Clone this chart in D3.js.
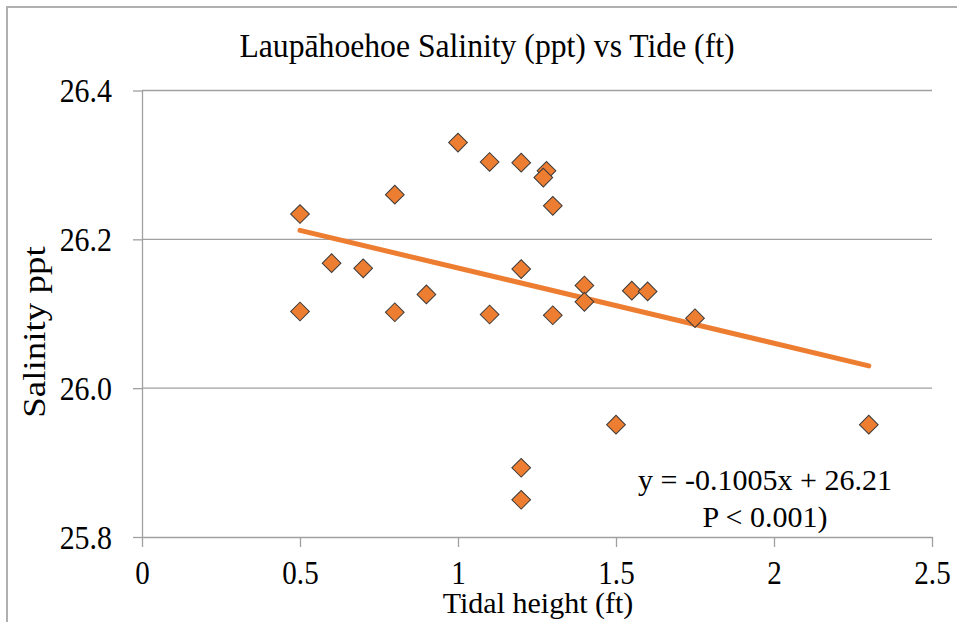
<!DOCTYPE html>
<html>
<head>
<meta charset="utf-8">
<script src="https://cdn.jsdelivr.net/npm/d3@7"></script>
<style>
  body { margin: 0; background: #fff; }
  svg { display: block; font-family: "Liberation Serif", "Times New Roman", serif; }
</style>
</head>
<body>
<div class="chart"></div>
<script>
// readings
let tide = [0.5, 0.5, 0.6, 0.7, 0.8, 0.8, 0.9, 1.0, 1.1, 1.1, 1.2, 1.2, 1.2, 1.2, 1.28, 1.27, 1.3, 1.3, 1.4, 1.4, 1.5, 1.55, 1.6, 1.75, 2.3];
let salinity = [26.234, 26.103, 26.168, 26.161, 26.260, 26.102, 26.126, 26.330, 26.304, 26.099, 26.303, 26.160, 25.893, 25.850, 26.292, 26.283, 26.245, 26.098, 26.138, 26.116, 25.951, 26.131, 26.130, 26.094, 25.951];
let trendX = [0.5, 2.3];
let trendY = [26.212, 26.030];
let xTicks = [0, 0.5, 1, 1.5, 2, 2.5];
let yTicks = [25.8, 26.0, 26.2, 26.4];
let title = 'Laupāhoehoe Salinity (ppt) vs Tide (ft)';
let xTitle = 'Tidal height (ft)';
let yTitle = 'Salinity ppt';
let equation = ['y = -0.1005x + 26.21', 'P < 0.001)'];

function drawChart() {
	let width = 957, height = 622;
	let orange = '#ED7D31';
	let gridColor = '#a0a0a0';

	let svg = d3.select('.chart').append('svg')
		.attr('width', width)
		.attr('height', height);

	// outer frame (only top and left edges are visible)
	svg.append('rect')
		.attr('x', 7).attr('y', 7)
		.attr('width', width + 10).attr('height', height + 10)
		.attr('fill', 'none')
		.attr('stroke', '#b0b0b0')
		.attr('stroke-width', 2);

	let xScale = d3.scaleLinear().domain([0, 2.5]).range([142, 932]);
	let yScale = d3.scaleLinear().domain([25.8, 26.4]).range([537, 90.5]);

	// horizontal gridlines
	svg.append('g')
		.selectAll('line')
		.data(yTicks.filter(d => d > 25.8))
		.enter().append('line')
		.attr('x1', xScale(0)).attr('x2', xScale(2.5))
		.attr('y1', d => yScale(d)).attr('y2', d => yScale(d))
		.attr('stroke', gridColor)
		.attr('stroke-width', 1.3);

	// y axis
	let yAxis = svg.append('g')
		.attr('transform', 'translate(' + xScale(0) + ',0)')
		.call(d3.axisLeft(yScale).tickValues(yTicks).tickSize(9).tickSizeOuter(0).tickFormat(d3.format('.1f')));
	yAxis.select('.domain').attr('stroke', gridColor).attr('stroke-width', 1.3);
	yAxis.selectAll('.tick line').attr('stroke', gridColor).attr('stroke-width', 1.3);
	yAxis.selectAll('.tick text')
		.attr('x', null).attr('dy', null)
		.attr('transform', 'translate(-30,11) scale(0.88,1)')
		.attr('font-size', 34)
		.attr('font-family', '"Liberation Serif", serif')
		.attr('fill', '#000');

	// x axis
	let xAxis = svg.append('g')
		.attr('transform', 'translate(0,' + yScale(25.8) + ')')
		.call(d3.axisBottom(xScale).tickValues(xTicks).tickSize(10).tickSizeOuter(0).tickFormat(d => d3.format('~g')(d)));
	xAxis.select('.domain').attr('stroke', gridColor).attr('stroke-width', 1.3);
	xAxis.selectAll('.tick line').attr('stroke', gridColor).attr('stroke-width', 1.3);
	xAxis.selectAll('.tick text')
		.attr('y', null).attr('dy', null)
		.attr('transform', 'translate(0,47) scale(0.88,1)')
		.attr('font-size', 33)
		.attr('font-family', '"Liberation Serif", serif')
		.attr('fill', '#000');

	// trendline
	let line = d3.line()
		.x(d => xScale(d[0]))
		.y(d => yScale(d[1]));
	svg.append('path')
		.datum(d3.zip(trendX, trendY))
		.attr('fill', 'none')
		.attr('stroke', orange)
		.attr('stroke-width', 5)
		.attr('stroke-linecap', 'round')
		.attr('d', line);

	// diamond markers
	let diamond = d3.symbol().type(d3.symbolSquare).size(175);
	svg.append('g')
		.selectAll('path')
		.data(d3.zip(tide, salinity))
		.enter().append('path')
		.attr('d', diamond)
		.attr('transform', d => 'translate(' + xScale(d[0]) + ',' + yScale(d[1]) + ') rotate(45)')
		.attr('fill', orange)
		.attr('stroke', '#3a3a3a')
		.attr('stroke-width', 1);

	// titles
	svg.append('text')
		.attr('transform', 'translate(487,57) scale(0.96,1)')
		.attr('text-anchor', 'middle')
		.attr('font-size', 33)
		.text(title);

	svg.append('text')
		.attr('x', 538).attr('y', 613)
		.attr('text-anchor', 'middle')
		.attr('font-size', 30)
		.text(xTitle);

	svg.append('text')
		.attr('transform', 'translate(45,332) rotate(-90) scale(1,0.88)')
		.attr('text-anchor', 'middle')
		.attr('font-size', 37)
		.text(yTitle);

	// regression label
	svg.append('g')
		.selectAll('text')
		.data(equation)
		.enter().append('text')
		.attr('x', 765)
		.attr('y', (d, i) => 490 + i * 37)
		.attr('text-anchor', 'middle')
		.attr('font-size', 30)
		.text(d => d);
}

drawChart();
</script>
</body>
</html>
